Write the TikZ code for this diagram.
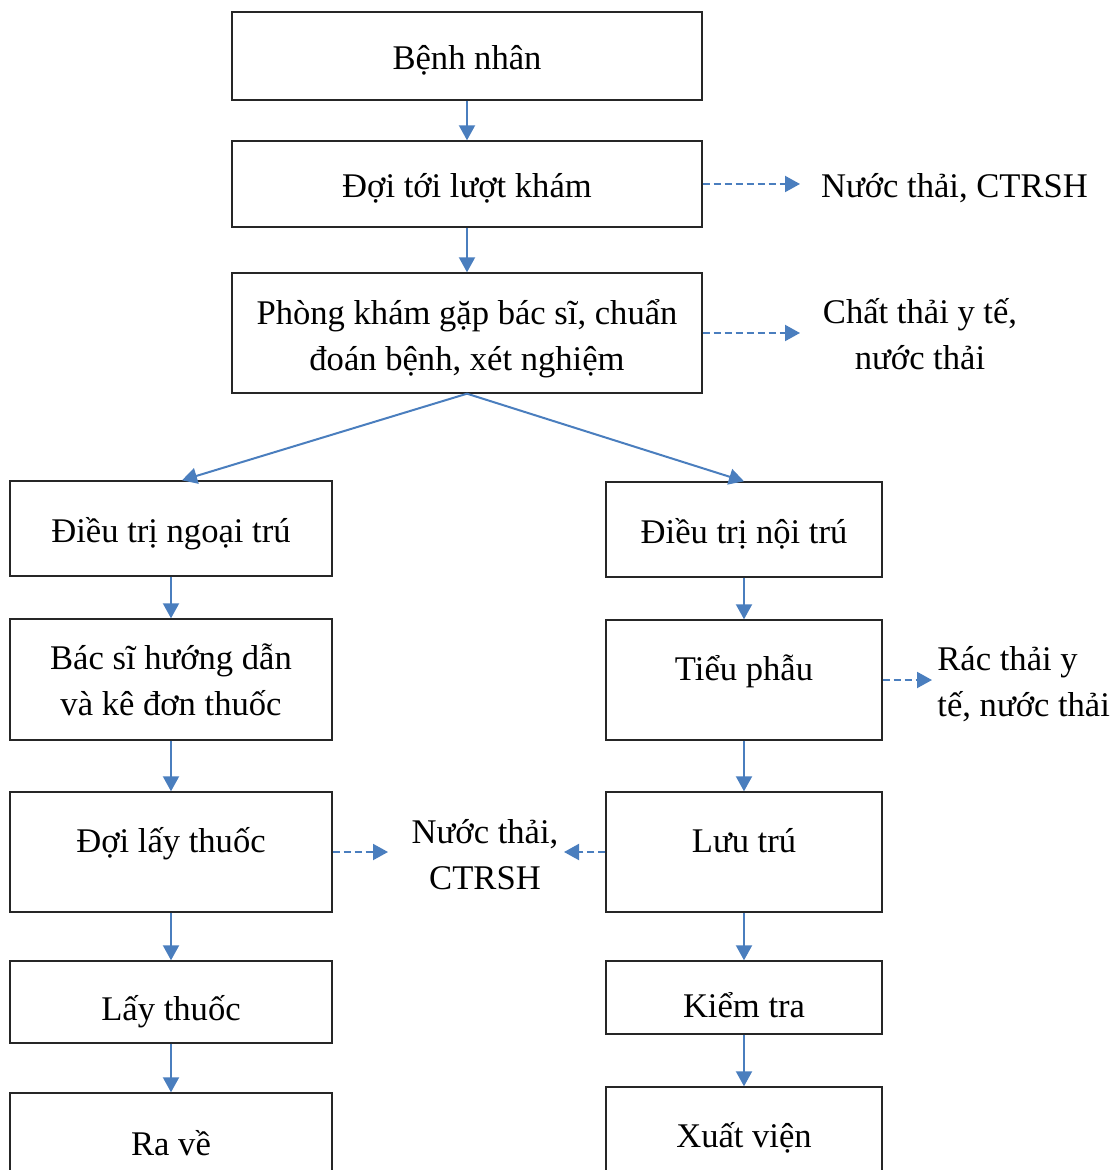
\documentclass[tikz,border=0pt]{standalone}
\usepackage{fontspec}
\setmainfont{Liberation Serif}
\usepackage{tikz}
\usepackage{xcolor}
\usetikzlibrary{positioning, calc, arrows.meta}
\definecolor{flowblue}{RGB}{74,126,190}
\begin{document}
\begin{tikzpicture}[x=0.5pt, y=-0.5pt,
        every node/.style={font=\fontsize{17.3}{23}\selectfont},
        box/.style={draw=black!85, line width=0.7pt, inner sep=2pt},
        one/.style={text height=17pt, text depth=3pt},
        low/.style={text height=20pt, text depth=2pt},
        up/.style={text height=8pt, text depth=8pt},
        flow/.style={draw=flowblue, line width=1pt, -{Triangle[length=7.5pt,width=8pt]}},
        waste/.style={flow, dash pattern=on 3.5pt off 2pt}]
        \clip (0,0) rectangle (1112,1170);
        \node[box,one,minimum width=235pt,minimum height=44pt] (bn) at (467,56) {Bệnh nhân};
        \node[box,one,minimum width=235pt,minimum height=43pt] (doi) at (467,184) {Đợi tới lượt khám};
        \node[box,align=center,minimum width=235pt,minimum height=60pt] (pk) at (467,333) {\rule{0pt}{18pt}Phòng khám gặp bác sĩ, chuẩn\\đoán bệnh, xét nghiệm};
        \node[box,one,minimum width=161pt,minimum height=47.5pt] (ngt) at (171,528.5) {Điều trị ngoại trú};
        \node[box,align=center,minimum width=161pt,minimum height=60.5pt] (bs) at (171,679.5) {Bác sĩ hướng dẫn\\và kê đơn thuốc};
        \node[box,up,minimum width=161pt,minimum height=60pt] (dlt) at (171,852) {Đợi lấy thuốc};
        \node[box,low,minimum width=161pt,minimum height=41pt] (lt) at (171,1002) {Lấy thuốc};
        \node[box,one,minimum width=161pt,minimum height=48pt] (rv) at (171,1141) {Ra về};
        \node[box,one,minimum width=138pt,minimum height=47.5pt] (nt) at (744,529.5) {Điều trị nội trú};
        \node[box,up,minimum width=138pt,minimum height=60pt] (tp) at (744,680) {Tiểu phẫu};
        \node[box,up,minimum width=138pt,minimum height=60pt] (lu) at (744,852) {Lưu trú};
        \node[box,text height=22pt,text depth=2pt,minimum width=138pt,minimum height=36.5pt] (kt) at (744,997.5) {Kiểm tra};
        \node[box,one,minimum width=138pt,minimum height=46pt] (xv) at (744,1133) {Xuất viện};
        \node[one,inner sep=0pt] (ct1) at (954.5,184) {Nước thải, CTRSH};
        \node[align=center,inner sep=0pt] (ct2) at (920,334) {Chất thải y tế,\\nước thải};
        \node[align=left,anchor=west,inner sep=0pt] (ct3) at (937,684) {Rác thải y\\tế, nước thải};
        \node[align=center,inner sep=0pt] (ct4) at (485,855) {Nước thải,\\CTRSH};
        \coordinate (w1) at (800,184);
        \coordinate (w2) at (800,333);
        \coordinate (w3) at (932,680);
        \coordinate (w4) at (388,852);
        \coordinate (w5) at (564,852);
        \draw[flow] (bn) -- (doi);
        \draw[flow] (doi) -- (pk);
        \draw[flow] (pk.south) -- ([xshift=5.5pt]ngt.north);
        \draw[flow] (pk.south) -- (nt.north);
        \draw[flow] (ngt) -- (bs);
        \draw[flow] (bs) -- (dlt);
        \draw[flow] (dlt) -- (lt);
        \draw[flow] (lt) -- (rv);
        \draw[flow] (nt) -- (tp);
        \draw[flow] (tp) -- (lu);
        \draw[flow] (lu) -- (kt);
        \draw[flow] (kt) -- (xv);
        \draw[waste] (doi.east) -- (w1);
        \draw[waste] (pk.east) -- (w2);
        \draw[waste] (tp.east) -- (w3);
        \draw[waste] (dlt.east) -- (w4);
        \draw[waste] (lu.west) -- (w5);
    \end{tikzpicture}
\end{document}
